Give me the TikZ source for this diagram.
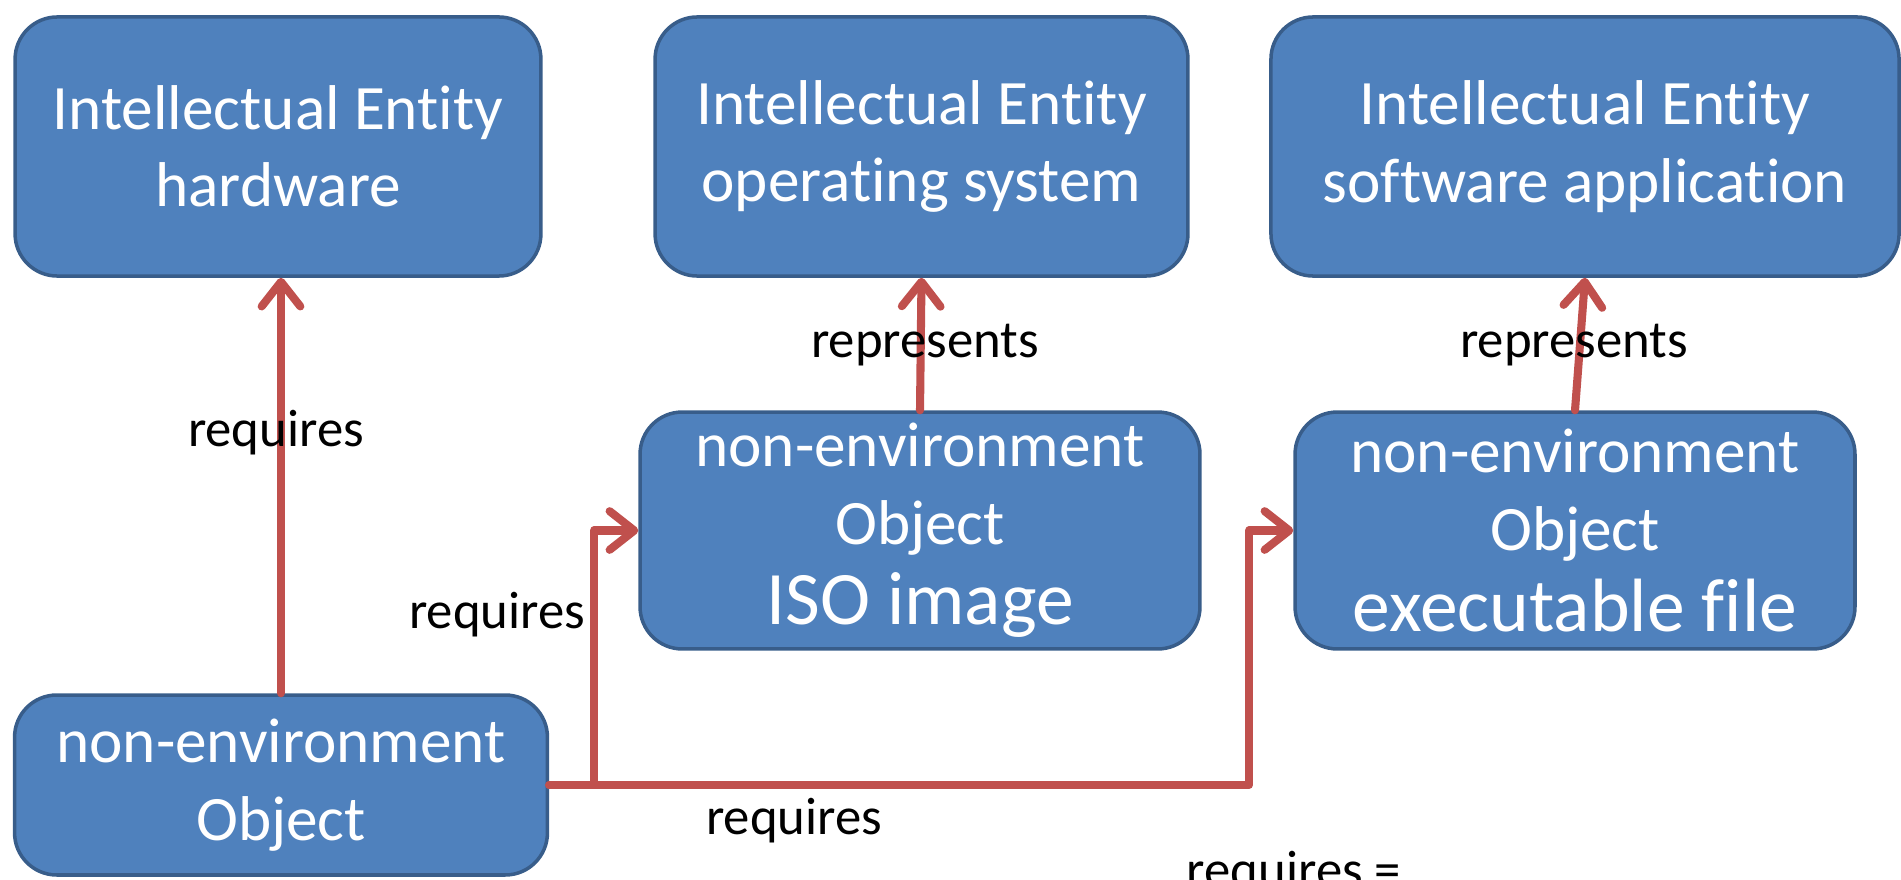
\documentclass[tikz,border=0pt]{standalone}
\usepackage{fontspec}
\setmainfont[Ligatures=NoCommon]{Carlito}
\usetikzlibrary{arrows.meta}
\definecolor{boxfill}{HTML}{4F81BD}
\definecolor{boxline}{HTML}{385D8A}
\definecolor{arrowred}{HTML}{C0504D}
\begin{document}
\begin{tikzpicture}[x=0.2845pt,y=-0.2845pt,
  entity/.style={draw=boxline, line width=1pt, fill=boxfill, rounded corners=12pt,
    text=white, align=center, font=\fontsize{18}{22}\selectfont, inner sep=0pt},
  rel/.style={draw=arrowred, line width=2.3pt, line cap=round, line join=round,
    -{Straight Barb[length=7pt,width=11pt,round]}},
  lbl/.style={font=\fontsize{15}{18}\selectfont, text=black, inner sep=0pt}]
\useasboundingbox (0,0) rectangle (1901,879);
% top row
\node[entity, minimum width=149.6pt, minimum height=73.7pt] (A) at (278,146.5)
  {Intellectual Entity\\hardware};
\node[entity, minimum width=151.6pt, minimum height=73.7pt] (B) at (921.5,146.5)
  {Intellectual Entity\\operating system};
\node[entity, minimum width=178.7pt, minimum height=73.7pt] (C) at (1585,146.5)
  {Intellectual Entity\\software application};
% middle row
\node[entity, minimum width=159.3pt, minimum height=67.4pt] (D) at (920,530.5)
  {non-environment\\Object\\[1pt]{\fontsize{21.5}{25}\selectfont ISO image}};
\node[entity, minimum width=159.3pt, minimum height=67.4pt] (E) at (1575,530.5)
  {non-environment\\Object\\[1pt]{\fontsize{21.5}{25}\selectfont executable file}};
% bottom
\node[entity, minimum width=151.6pt, minimum height=51.2pt] (F) at (281,785)
  {non-environment\\Object};
% bend points
\coordinate (d1) at (594,0);
\coordinate (e1) at (1249,0);
% connectors
\draw[rel] (F.north) -- (F.north |- A.south);
\draw[rel] (F.east) -| (d1 |- D.west) -- (D.west);
\draw[rel] (F.east) -| (e1 |- E.west) -- (E.west);
\draw[rel] (D.north) -- (B.south);
\draw[rel] (E.north) -- (C.south);
% labels
\node[lbl] (l1) at (276,433) {requires};
\node[lbl] (l2) at (497,615) {requires};
\node[lbl] (l3) at (794,821) {requires};
\node[lbl] (l4) at (925,345.5) {represents};
\node[lbl] (l5) at (1574,345.5) {represents};
\node[lbl, anchor=base] (l6) at (1294,887) {requires =};
\end{tikzpicture}
\end{document}
